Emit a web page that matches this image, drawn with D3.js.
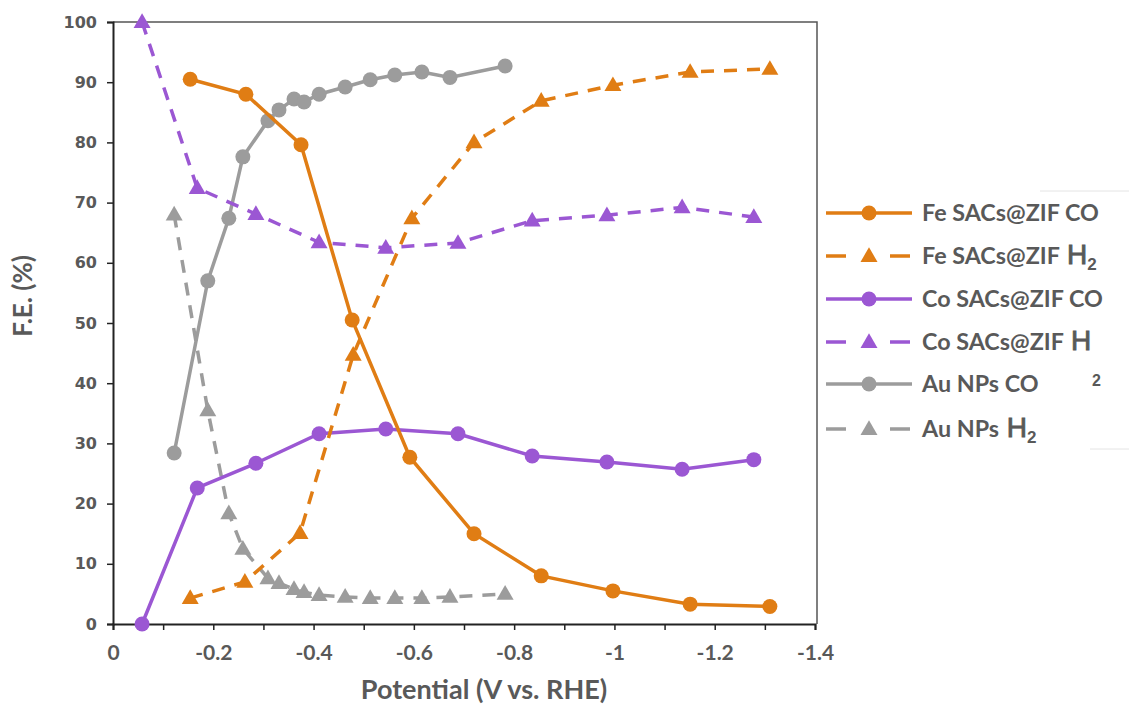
<!DOCTYPE html>
<html>
<head>
<meta charset="utf-8">
<script src="https://cdn.jsdelivr.net/npm/d3@7.9.0/dist/d3.min.js"></script>
<style>
  body { margin: 0; background: #fff; }
  svg { display: block; }
</style>
</head>
<body>
<svg id="chart" width="1129" height="710"></svg>
<script>
// --- data ---
const feCO_x = [-0.154, -0.265, -0.375, -0.477, -0.592, -0.72, -0.854, -0.997, -1.151, -1.31];
const feCO_y = [90.5, 88, 79.6, 50.5, 27.7, 15, 8, 5.5, 3.3, 2.9];

const feH2_x = [-0.154, -0.263, -0.373, -0.479, -0.596, -0.72, -0.854, -0.997, -1.151, -1.31];
const feH2_y = [4.3, 7, 15.1, 44.7, 67.4, 80, 86.9, 89.5, 91.7, 92.2];

const coCO_x = [-0.058, -0.168, -0.285, -0.411, -0.544, -0.688, -0.836, -0.985, -1.135, -1.278];
const coCO_y = [0, 22.6, 26.7, 31.6, 32.4, 31.6, 27.9, 26.9, 25.7, 27.3];

const coH2_x = [-0.058, -0.168, -0.285, -0.411, -0.544, -0.688, -0.836, -0.985, -1.135, -1.278];
const coH2_y = [100, 72.4, 68.1, 63.4, 62.5, 63.3, 67, 67.9, 69.2, 67.6];

const auCO_x = [-0.122, -0.189, -0.231, -0.259, -0.309, -0.331, -0.361, -0.381, -0.411, -0.463, -0.513, -0.562, -0.616, -0.672, -0.782];
const auCO_y = [28.4, 57, 67.4, 77.6, 83.6, 85.4, 87.2, 86.7, 88, 89.2, 90.4, 91.2, 91.7, 90.8, 92.7];

const auH2_x = [-0.122, -0.189, -0.231, -0.259, -0.309, -0.331, -0.361, -0.381, -0.411, -0.463, -0.513, -0.562, -0.616, -0.672, -0.782];
const auH2_y = [68, 35.5, 18.4, 12.5, 7.6, 6.8, 5.8, 5.3, 4.8, 4.5, 4.3, 4.3, 4.3, 4.5, 5.0];

const xTicks = [0, -0.2, -0.4, -0.6, -0.8, -1, -1.2, -1.4];
const yTicks = [0, 10, 20, 30, 40, 50, 60, 70, 80, 90, 100];

const ORANGE = '#e07d14';
const PURPLE = '#9b57d3';
const GRAY = '#9c9c9c';
const TEXT = '#595959';
const DASH = '13,10';

const series = [
  { name: 'Fe SACs@ZIF CO', xs: feCO_x, ys: feCO_y, color: ORANGE, dash: null, marker: 'circle' },
  { name: 'Fe SACs@ZIF H2', xs: feH2_x, ys: feH2_y, color: ORANGE, dash: DASH, marker: 'triangle' },
  { name: 'Co SACs@ZIF CO', xs: coCO_x, ys: coCO_y, color: PURPLE, dash: null, marker: 'circle' },
  { name: 'Co SACs@ZIF H2', xs: coH2_x, ys: coH2_y, color: PURPLE, dash: DASH, marker: 'triangle' },
  { name: 'Au NPs CO', xs: auCO_x, ys: auCO_y, color: GRAY, dash: null, marker: 'circle' },
  { name: 'Au NPs H2', xs: auH2_x, ys: auH2_y, color: GRAY, dash: DASH, marker: 'triangle' },
];

const svg = d3.select('#chart');
const mLeft = 113, mRight = 815, mTop = 22, mBottom = 624;

const x = d3.scaleLinear().domain([0, -1.4]).range([mLeft, mRight]);
const y = d3.scaleLinear().domain([0, 100]).range([mBottom, mTop]);

// frame (top + right)
svg.append('path')
  .attr('d', `M${mLeft},${mTop}H${mRight + 2}V${mBottom}`)
  .attr('fill', 'none').attr('stroke', '#555').attr('stroke-width', 1.5);

// x axis, minor ticks every 0.1
const xAxis = d3.axisBottom(x)
  .tickValues(d3.range(0, 15).map(i => -i / 10))
  .tickSize(6)
  .tickFormat(d => xTicks.some(t => Math.abs(t - d) < 1e-9) ? String(+d.toFixed(1)) : '');
const gx = svg.append('g').attr('transform', `translate(0,${mBottom})`).call(xAxis);
gx.select('.domain').attr('stroke', '#222').attr('stroke-width', 2);
gx.selectAll('.tick line').attr('stroke', '#222').attr('stroke-width', 1.5);
gx.selectAll('.tick text')
  .attr('dy', 27)
  .attr('fill', TEXT)
  .style('font-family', 'Lato, "Open Sans", sans-serif')
  .style('font-size', '21px')
  .style('font-weight', 'bold');

// y axis
const yAxis = d3.axisLeft(y).tickValues(yTicks).tickSize(6).tickPadding(10);
const gy = svg.append('g').attr('transform', `translate(${mLeft},0)`).call(yAxis);
gy.select('.domain').attr('stroke', '#222').attr('stroke-width', 2);
gy.selectAll('.tick line').attr('stroke', '#222').attr('stroke-width', 1.5);
gy.selectAll('.tick text')
  .attr('fill', TEXT)
  .style('font-family', '"DejaVu Sans", sans-serif')
  .style('font-size', '16px')
  .style('font-weight', 'bold');

// axis titles
svg.append('text')
  .attr('x', 484).attr('y', 699)
  .attr('text-anchor', 'middle')
  .attr('fill', TEXT)
  .style('font-family', 'Lato, "Open Sans", sans-serif')
  .style('font-size', '27px').style('font-weight', 'bold')
  .text('Potential (V vs. RHE)');

svg.append('text')
  .attr('transform', 'translate(32,296) rotate(-90)')
  .attr('text-anchor', 'middle')
  .attr('fill', TEXT)
  .style('font-family', 'Lato, "Open Sans", sans-serif')
  .style('font-size', '26px').style('font-weight', 'bold')
  .text('F.E. (%)');

const tri = d3.symbol().type(d3.symbolTriangle).size(125);

function drawMarkers(g, s, pts) {
  if (s.marker === 'circle') {
    g.selectAll('circle').data(pts).join('circle')
      .attr('cx', d => x(d[0])).attr('cy', d => y(d[1]))
      .attr('r', 7.5).attr('fill', s.color);
  } else {
    g.selectAll('path.m').data(pts).join('path').attr('class', 'm')
      .attr('d', tri)
      .attr('transform', d => `translate(${x(d[0])},${y(d[1]) + 1})`)
      .attr('fill', s.color);
  }
}

const line = d3.line().x(d => x(d[0])).y(d => y(d[1]));

// draw order: gray first, then purple, then orange on top
[4, 5, 2, 3, 1, 0].forEach(i => {
  const s = series[i];
  const pts = s.xs.map((v, k) => [v, s.ys[k]]);
  const g = svg.append('g');
  g.append('path').datum(pts)
    .attr('d', line)
    .attr('fill', 'none')
    .attr('stroke', s.color)
    .attr('stroke-width', 3.5)
    .attr('stroke-dasharray', s.dash);
  drawMarkers(g, s, pts);
});

// legend
const legY = [213, 256, 299, 342, 384, 429];
const leg = svg.append('g');
// faint legend box remnants
leg.append('line').attr('x1', 1040).attr('x2', 1129).attr('y1', 191).attr('y2', 191).attr('stroke', '#e4e4e4');
leg.append('line').attr('x1', 1090).attr('x2', 1129).attr('y1', 449).attr('y2', 449).attr('stroke', '#e4e4e4');

series.forEach((s, i) => {
  const ly = legY[i];
  leg.append('line')
    .attr('x1', 826).attr('x2', 912).attr('y1', ly).attr('y2', ly)
    .attr('stroke', s.color).attr('stroke-width', 3.5)
    .attr('stroke-dasharray', s.dash ? '20,44' : null);
  const gm = leg.append('g');
  if (s.marker === 'circle') {
    gm.append('circle').attr('cx', 869).attr('cy', ly).attr('r', 7.5).attr('fill', s.color);
  } else {
    gm.append('path').attr('d', tri).attr('transform', `translate(869,${ly + 1})`).attr('fill', s.color);
  }
  const isH2 = s.name.endsWith('H2');
  const base = isH2 ? s.name.slice(0, -2) : s.name;
  const t = leg.append('text')
    .attr('x', 922).attr('y', ly + 8)
    .attr('fill', TEXT)
    .style('font-family', 'Lato, "Open Sans", sans-serif')
    .style('font-size', '23.3px').style('font-weight', 'bold');
  t.append('tspan').text(base);
  if (isH2) {
    t.append('tspan')
      .style('font-family', '"Liberation Sans", Arial, sans-serif')
      .style('font-weight', 'normal')
      .style('font-size', '28px')
      .attr('stroke', TEXT).attr('stroke-width', 0.9)
      .attr('dx', 2)
      .text('H');
    if (i !== 3) {
      t.append('tspan')
        .style('font-family', '"Liberation Sans", Arial, sans-serif')
        .style('font-size', '17px')
        .attr('dy', 6)
        .text('2');
    }
  }
});
// the misplaced subscript for Co SACs@ZIF H2
leg.append('text')
  .attr('x', 1092).attr('y', 386)
  .attr('fill', TEXT)
  .style('font-family', '"Liberation Sans", Arial, sans-serif')
  .style('font-size', '16px').style('font-weight', 'bold')
  .text('2');
</script>
</body>
</html>
